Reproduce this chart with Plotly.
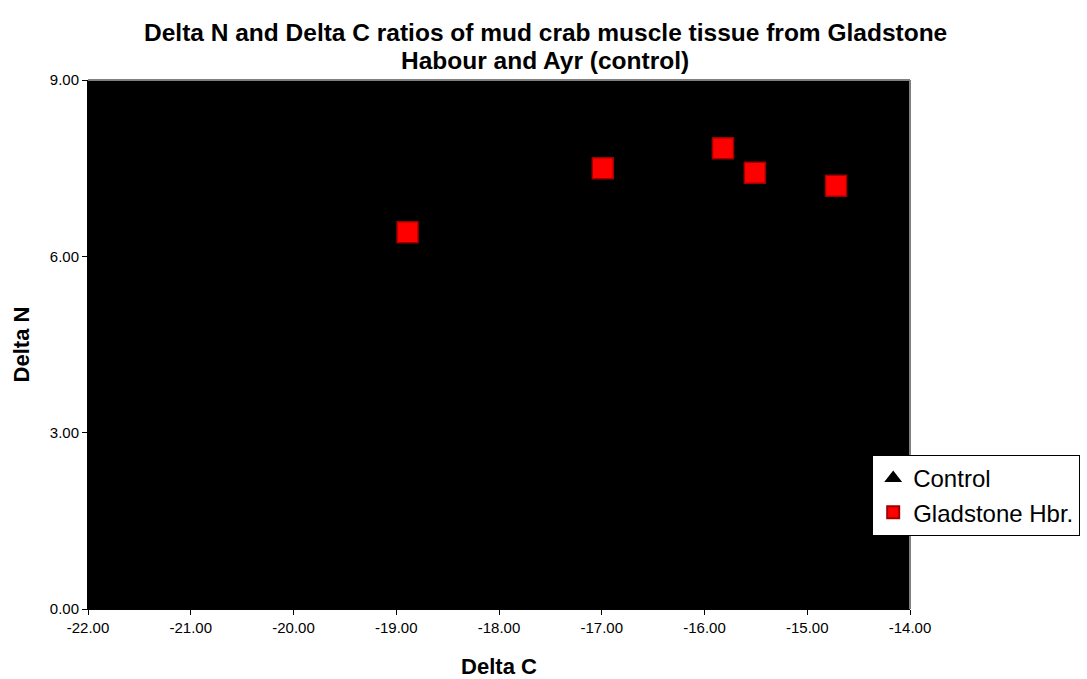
import plotly.graph_objects as go

# Stable isotope ratios of mud crab muscle tissue
gladstone_delta_c = [-18.89, -16.99, -15.82, -15.51, -14.72]
gladstone_delta_n = [6.41, 7.50, 7.84, 7.42, 7.20]

# Control (Ayr) series: no points drawn, only its legend entry
control_delta_c = [None]
control_delta_n = [None]

x_ticks = [-22, -21, -20, -19, -18, -17, -16, -15, -14]
x_tick_labels = ["-22.00", "-21.00", "-20.00", "-19.00", "-18.00",
                 "-17.00", "-16.00", "-15.00", "-14.00"]
y_ticks = [0, 3, 6, 9]
y_tick_labels = ["0.00", "3.00", "6.00", "9.00"]

title_lines = ["Delta N and Delta C ratios of mud crab muscle tissue from Gladstone",
               "Habour and Ayr (control)"]

FONT = "Arial, Liberation Sans, sans-serif"

fig = go.Figure()

fig.add_trace(go.Scatter(
    x=control_delta_c, y=control_delta_n, mode="markers", name="Control",
    marker=dict(symbol="triangle-up", size=16, color="black",
                line=dict(color="black", width=1)),
))

fig.add_trace(go.Scatter(
    x=gladstone_delta_c, y=gladstone_delta_n, mode="markers", name="Gladstone Hbr.",
    marker=dict(symbol="square", size=21, color="#ff0000",
                line=dict(color="#a00000", width=1.5)),
))

fig.update_layout(
    width=1087, height=679,
    margin=dict(l=88, r=177, t=80, b=70, autoexpand=False),
    paper_bgcolor="white",
    plot_bgcolor="black",
    font=dict(family=FONT, color="black"),
    xaxis=dict(
        range=[-22, -14], tickvals=x_ticks, ticktext=x_tick_labels,
        showgrid=False, zeroline=False,
        showline=True, linecolor="black", linewidth=1,
        ticks="outside", ticklen=5, tickcolor="black",
        tickfont=dict(size=15, family=FONT),
        title=dict(text="<b>Delta C</b>", font=dict(size=22, family=FONT), standoff=24),
    ),
    yaxis=dict(
        range=[0, 9], tickvals=y_ticks, ticktext=y_tick_labels,
        showgrid=False, zeroline=False,
        showline=True, linecolor="black", linewidth=1,
        ticks="outside", ticklen=5, tickcolor="black",
        tickfont=dict(size=15, family=FONT),
        title=dict(text="<b>Delta N</b>", font=dict(size=22, family=FONT), standoff=14),
    ),
    legend=dict(
        x=0.954, y=0.2911, xanchor="left", yanchor="top",
        bgcolor="white", bordercolor="black", borderwidth=1,
        font=dict(size=24, family=FONT, color="black"),
        itemsizing="constant",
    ),
    showlegend=True,
)

# Two-line chart title, centred over the whole chart
for line, y_px in zip(title_lines, [32, 60]):
    fig.add_annotation(
        text=f"<b>{line}</b>", xref="paper", yref="paper",
        x=(545 - 88) / 822, y=(609 - y_px) / 529,
        xanchor="center", yanchor="middle", showarrow=False,
        font=dict(size=24.5, family=FONT, color="black"),
    )

# Gray frame on the top and right edges of the plot area
fig.add_shape(type="line", xref="paper", yref="paper", x0=0, x1=1, y0=1, y1=1,
              line=dict(color="#808080", width=2))
fig.add_shape(type="line", xref="paper", yref="paper", x0=1, x1=1, y0=0, y1=1,
              line=dict(color="#808080", width=2))

fig.write_html("out.html")
